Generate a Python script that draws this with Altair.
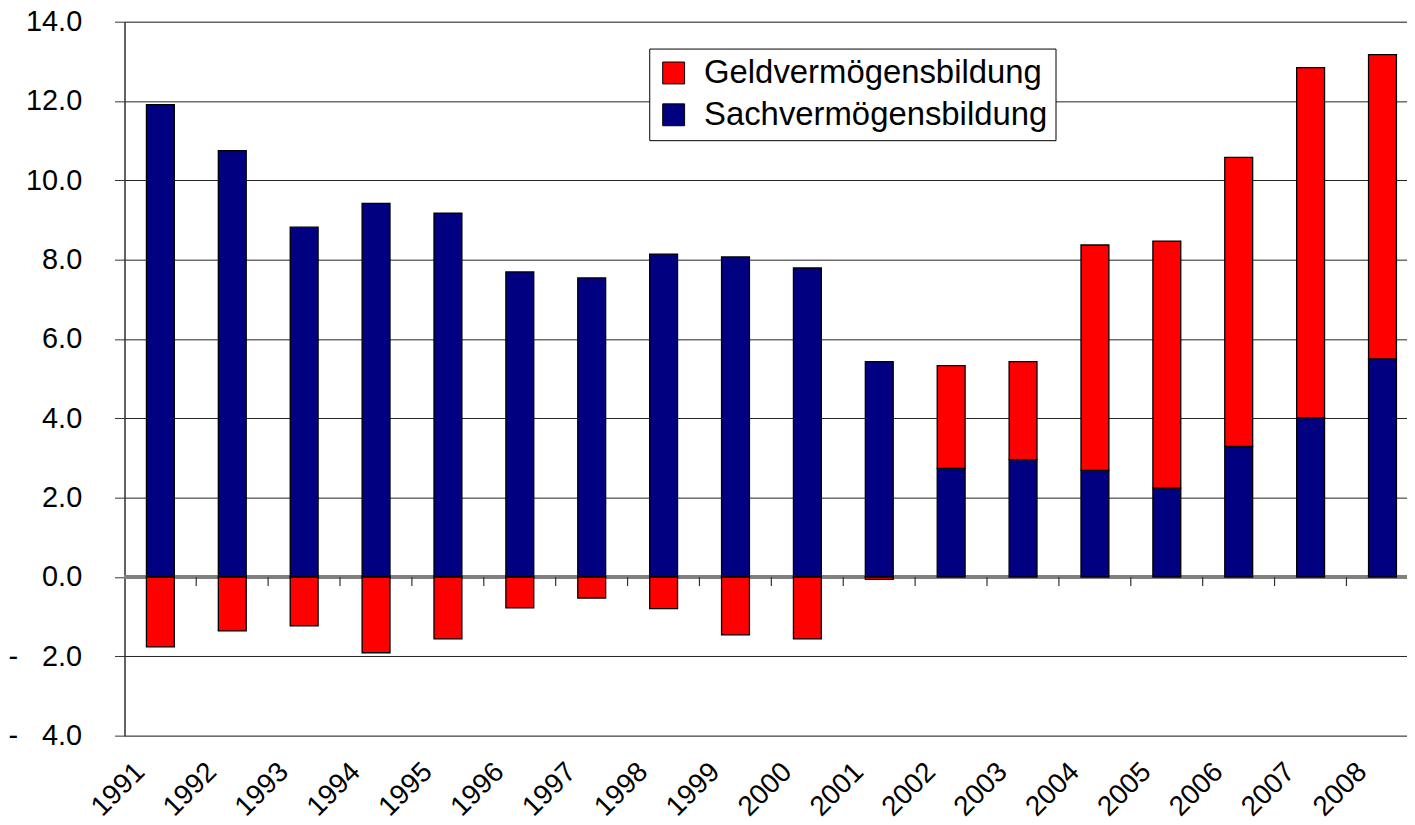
import altair as alt
import pandas as pd

years = [str(y) for y in range(1991, 2009)]
sach = [11.91, 10.75, 8.82, 9.42, 9.17, 7.69, 7.54, 8.14, 8.07, 7.79,
        5.43, 2.74, 2.96, 2.69, 2.24, 3.29, 4.02, 5.50]
geld = [-1.76, -1.36, -1.23, -1.91, -1.56, -0.78, -0.53, -0.80, -1.46, -1.56,
        -0.06, 2.59, 2.47, 5.68, 6.23, 7.29, 8.82, 7.67]
series = ["Geldvermögensbildung", "Sachvermögensbildung"]
colors = ["#FF0000", "#000080"]
y_ticks = [-4, -2, 0, 2, 4, 6, 8, 10, 12, 14]

rows = []
for i, y in enumerate(years):
    rows.append({"Jahr": y, "Reihe": series[1], "Wert": sach[i], "ord": 0})
    rows.append({"Jahr": y, "Reihe": series[0], "Wert": geld[i], "ord": 1})
df = pd.DataFrame(rows)
ticks_df = pd.DataFrame({"Jahr": years})

FONT = "Liberation Sans"

xscale = alt.Scale(domain=years, paddingInner=0.612, paddingOuter=0.226, align=0.675)

bars = alt.Chart(df).mark_bar(stroke="black", strokeWidth=1.3).encode(
    x=alt.X("Jahr:N", scale=xscale, sort=years,
            axis=alt.Axis(title=None, labelAngle=-45, labelAlign="right",
                          labelBaseline="middle", domain=False, ticks=False,
                          tickSize=0, labelPadding=32, labelOffset=-20,
                          labelFontSize=28, labelFont=FONT, labelColor="black",
                          grid=False)),
    y=alt.Y("Wert:Q", stack="zero",
            scale=alt.Scale(domain=[-4, 14], nice=False),
            axis=alt.Axis(title=None, values=y_ticks,
                          labelExpr="datum.value < 0 ? '-\u00a0\u00a0\u00a0' + format(-datum.value, '.1f') : format(datum.value, '.1f')",
                          labelFontSize=29, labelFont=FONT, labelColor="black",
                          labelPadding=33, tickSize=10, tickColor="#333",
                          domainColor="#333", domainWidth=1.5,
                          grid=True, gridColor="#222", gridWidth=1)),
    color=alt.Color("Reihe:N", scale=alt.Scale(domain=series, range=colors),
                    legend=alt.Legend(title=None, orient="none", legendX=527, legendY=27,
                                      symbolType="square", symbolSize=484,
                                      symbolStrokeColor="black", symbolStrokeWidth=1,
                                      labelFontSize=33, labelFont=FONT, labelColor="black",
                                      labelLimit=600, labelOffset=14, rowPadding=8,
                                      strokeColor="black", fillColor="white",
                                      padding=8, symbolOpacity=1)),
    order=alt.Order("ord:Q", sort="ascending"),
)

zero = alt.Chart(ticks_df).mark_rule(color="#808080", strokeWidth=2.5).encode(
    y=alt.datum(0)
)

cat_ticks = alt.Chart(ticks_df).mark_rule(color="#333", strokeWidth=1.2,
                                          xOffset=36, y2Offset=9, clip=True).encode(
    x=alt.X("Jahr:N", scale=xscale, sort=years),
    y=alt.datum(0),
    y2=alt.datum(0),
)

chart = alt.layer(zero, bars, cat_ticks).properties(
    width=1288, height=717,
    autosize=alt.AutoSizeParams(type="none"),
    padding={"left": 117, "top": 12, "right": 0, "bottom": 88},
).configure_view(stroke=None).configure(font=FONT)

chart.save("out.html", embed_options={"renderer": "svg", "actions": False})
